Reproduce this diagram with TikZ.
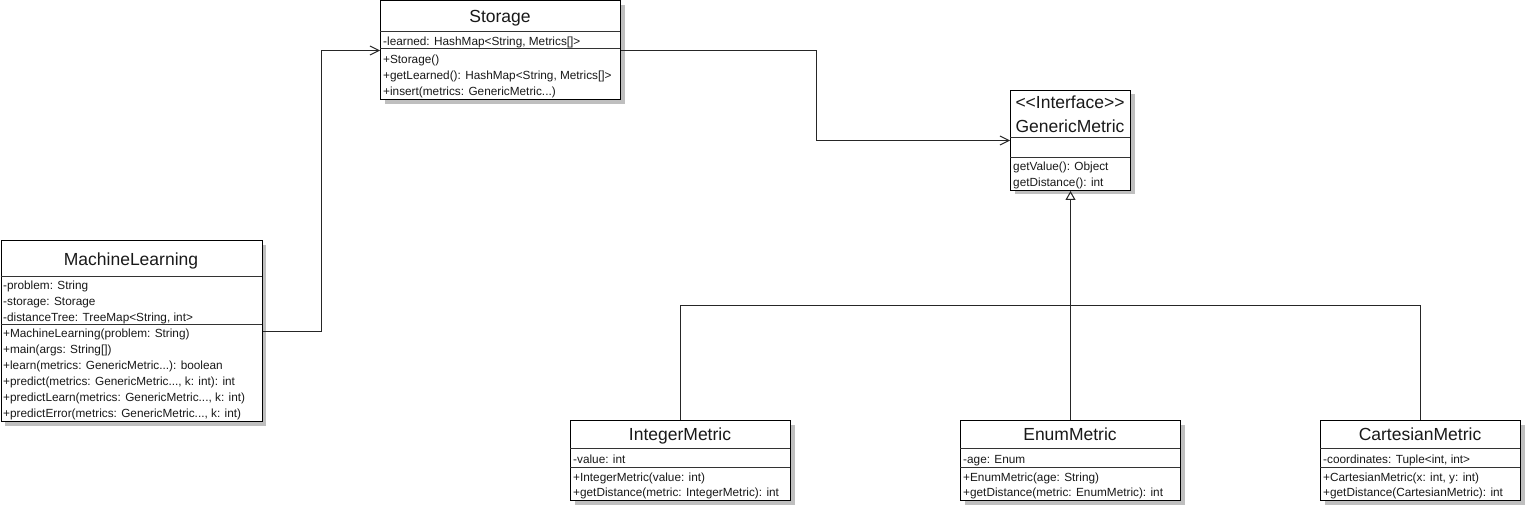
\documentclass[tikz,border=0pt]{standalone}
\usepackage{fontspec}
\setmainfont{Liberation Sans}
\usetikzlibrary{arrows.meta,shadows}

\begin{document}
\begin{tikzpicture}[
    x=1pt,y=-1pt,
    classbox/.style={
      draw=black,line width=1pt,fill=white,anchor=north west,inner sep=0pt,
      drop shadow={shadow xshift=4pt,shadow yshift=-4pt,fill=black!25,opacity=1}
    },
    sep/.style={draw=black!80,line width=1pt},
    classname/.style={font=\fontsize{17.5}{20}\selectfont,text=black!90,anchor=base,inner sep=0pt},
    member/.style={font=\fontsize{11.8}{16}\selectfont,text=black!90,anchor=base west,inner sep=0pt},
    link/.style={line width=1pt,draw=black!85},
    assoc/.style={link,-{Straight Barb[length=9pt,width=9pt]}},
    realize/.style={link,-{Triangle[open,length=9pt,width=10pt,fill=white]}},
  ]
  \useasboundingbox (0,0) rectangle (1525,505);

  % MachineLearning
  \node[classbox,minimum width=261pt,minimum height=181pt] (ml) at (0.5,240) {};
  \draw[sep] (0.5,276) -- (261.5,276);
  \draw[sep] (0.5,324) -- (261.5,324);
  \node[classname] (mlname) at (131,265.5) {MachineLearning};
  \node[member] (mla1) at (3,289) {-problem: String};
  \node[member] (mla2) at (3,305) {-storage: Storage};
  \node[member] (mla3) at (3,321) {-distanceTree: TreeMap<String, int>};
  \node[member] (mlo1) at (3,337) {+MachineLearning(problem: String)};
  \node[member] (mlo2) at (3,353) {+main(args: String[])};
  \node[member] (mlo3) at (3,369) {+learn(metrics: GenericMetric...): boolean};
  \node[member] (mlo4) at (3,385) {+predict(metrics: GenericMetric..., k: int): int};
  \node[member] (mlo5) at (3,401) {+predictLearn(metrics: GenericMetric..., k: int)};
  \node[member] (mlo6) at (3,417) {+predictError(metrics: GenericMetric..., k: int)};

  % Storage
  \node[classbox,minimum width=240pt,minimum height=99pt] (st) at (380,0.5) {};
  \draw[sep] (380,32) -- (620,32);
  \draw[sep] (380,49) -- (620,49);
  \node[classname] (stname) at (500,23) {Storage};
  \node[member] (sta1) at (383,46) {-learned: HashMap<String, Metrics[]>};
  \node[member] (sto1) at (383,64) {+Storage()};
  \node[member] (sto2) at (383,80) {+getLearned(): HashMap<String, Metrics[]>};
  \node[member] (sto3) at (383,96) {+insert(metrics: GenericMetric...)};

  % GenericMetric
  \node[classbox,minimum width=120pt,minimum height=100pt] (gm) at (1010,90) {};
  \draw[sep] (1010,138) -- (1130,138);
  \draw[sep] (1010,158) -- (1130,158);
  \node[classname] (gmtype) at (1070,109) {{<}{<}Interface{>}{>}};
  \node[classname] (gmname) at (1070,133) {GenericMetric};
  \node[member] (gmo1) at (1013,171) {getValue(): Object};
  \node[member] (gmo2) at (1013,186) {getDistance(): int};

  % IntegerMetric
  \node[classbox,minimum width=220pt,minimum height=80pt] (im) at (570,420) {};
  \draw[sep] (570,448) -- (790,448);
  \draw[sep] (570,467) -- (790,467);
  \node[classname] (imname) at (680,440) {IntegerMetric};
  \node[member] (ima1) at (573,463) {-value: int};
  \node[member] (imo1) at (573,481) {+IntegerMetric(value: int)};
  \node[member] (imo2) at (573,496) {+getDistance(metric: IntegerMetric): int};

  % EnumMetric
  \node[classbox,minimum width=220pt,minimum height=80pt] (em) at (960,420) {};
  \draw[sep] (960,448) -- (1180,448);
  \draw[sep] (960,467) -- (1180,467);
  \node[classname] (emname) at (1070,440) {EnumMetric};
  \node[member] (ema1) at (963,463) {-age: Enum};
  \node[member] (emo1) at (963,481) {+EnumMetric(age: String)};
  \node[member] (emo2) at (963,496) {+getDistance(metric: EnumMetric): int};

  % CartesianMetric
  \node[classbox,minimum width=200pt,minimum height=80pt] (cm) at (1320,420) {};
  \draw[sep] (1320,448) -- (1520,448);
  \draw[sep] (1320,467) -- (1520,467);
  \node[classname] (cmname) at (1420,440) {CartesianMetric};
  \node[member] (cma1) at (1323,463) {-coordinates: Tuple<int, int>};
  \node[member] (cmo1) at (1323,481) {+CartesianMetric(x: int, y: int)};
  \node[member] (cmo2) at (1323,496) {+getDistance(CartesianMetric): int};

  % connectors
  \draw[assoc] (ml.east) -- ++(59,0) |- (st.west);
  \draw[assoc] (st.east) -- ++(195,0) |- (gm.west);
  \coordinate (bus) at (1070,305.5);
  \draw[realize] (em.north) -- (gm.south);
  \draw[link] (im.north) |- (bus) -| (cm.north);
\end{tikzpicture}
\end{document}
